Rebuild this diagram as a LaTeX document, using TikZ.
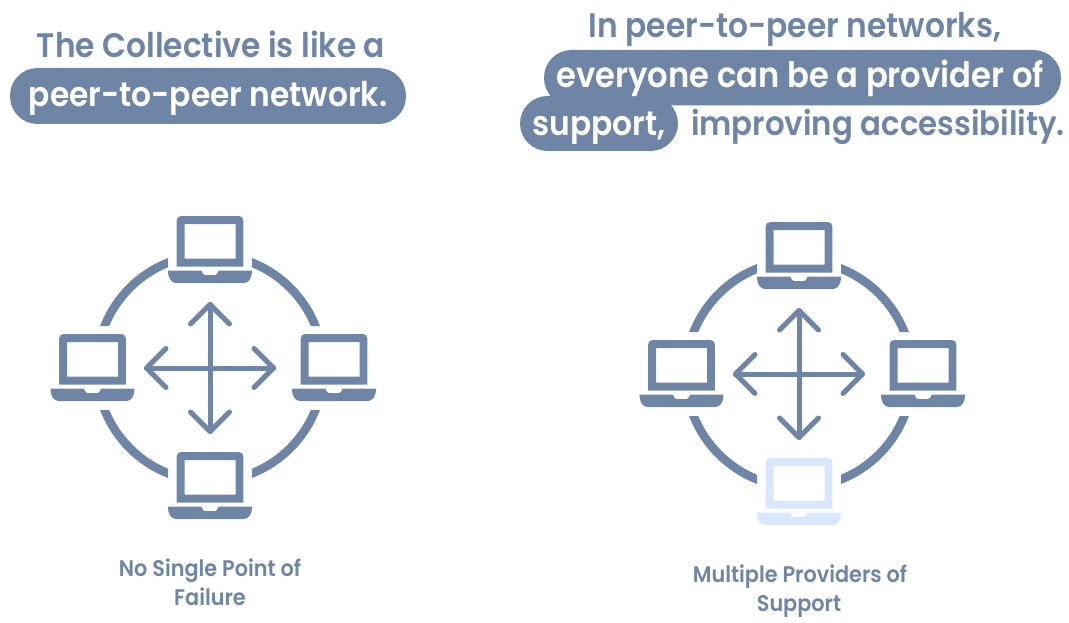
\documentclass[tikz,border=0pt]{standalone}
\usepackage{fontspec}
\setmainfont{Poppins}[UprightFont=* Medium, BoldFont=* SemiBold, FakeStretch=0.92]
\usepackage{xcolor}
\usepackage{tikz}
\definecolor{slateblue}{HTML}{6E85A6}
\definecolor{paleblue}{HTML}{D8E7FB}
\tikzset{
  headtext/.style={text=slateblue, font=\bfseries\fontsize{34}{34}\selectfont, anchor=base, inner sep=0pt},
  pilltext/.style={text=white, font=\bfseries\fontsize{34}{34}\selectfont, anchor=base, inner sep=0pt},
  capttext/.style={text=slateblue, font=\bfseries\fontsize{22.6}{22.6}\selectfont, anchor=base, inner sep=0pt},
  arrowline/.style={draw=slateblue, line width=5pt, line cap=round, line join=round}
}
\newcommand{\drawlaptop}[3]{%
  \begin{scope}[shift={(#1,#2)}]
    \fill[#3, even odd rule]
      (-33.4,50.7) [rounded corners=4.5pt] -- (-33.4,0) -- (33.4,0) [sharp corners] -- (33.4,50.7) -- cycle
      (-25.5,8) rectangle (25.5,42.7);
    \fill[#3] (-42,54.7) -- (-8.6,54.7) .. controls (-7,58.5) and (-6,59.2) .. (-4,59.2) -- (4,59.2)
      .. controls (6,59.2) and (7,58.5) .. (8.6,54.7) -- (42,54.7)
      .. controls (42,62) and (39,67) .. (34,67) -- (-34,67)
      .. controls (-39,67) and (-42,62) .. (-42,54.7) -- cycle;
  \end{scope}}
\newcommand{\drawnetwork}[1]{%
  \begin{scope}
    \clip (42,-125) rectangle (125,-42) (-125,-125) rectangle (-42,-42)
      (42,42) rectangle (125,125) (-125,42) rectangle (-42,125);
    \draw[slateblue, line width=8.6pt] (0,0) circle (113.4);
  \end{scope}
  \draw[arrowline] (-63.5,0) -- (63.5,0);
  \draw[arrowline] (0,-63.5) -- (0,63.5);
  \draw[arrowline] (-44,-19.5) -- (-63.5,0) -- (-44,19.5);
  \draw[arrowline] (44,-19.5) -- (63.5,0) -- (44,19.5);
  \draw[arrowline] (-19.5,-44) -- (0,-63.5) -- (19.5,-44);
  \draw[arrowline] (-19.5,44) -- (0,63.5) -- (19.5,44);
  \drawlaptop{0}{-152}{slateblue}
  \drawlaptop{-117.5}{-34}{slateblue}
  \drawlaptop{124}{-34}{slateblue}
  \drawlaptop{0}{84}{#1}}
\begin{document}
\begin{tikzpicture}[x=1pt, y=-1pt]
  \useasboundingbox (0,0) rectangle (1069,623);

  %--- Left heading ---
  \fill[slateblue, rounded corners=27.5pt] (10,68) rectangle (406,124);
  \node[headtext] (leadone) at (211,58) {The Collective is like a};
  \node[pilltext] (leadtwo) at (208,107) {peer-to-peer network.};

  %--- Right heading ---
  \fill[slateblue, rounded corners=27.5pt] (544,50) rectangle (1061,105.5);
  \fill[slateblue, rounded corners=27.5pt] (520,96) rectangle (678,151);
  \node[headtext] (peerone) at (795,38) {In peer-to-peer networks,};
  \node[pilltext, font=\bfseries\fontsize{35}{35}\selectfont] (peertwo) at (800,88) {everyone can be a provider of};
  \node[pilltext] (peerthree) at (599,136) {support,};
  \node[headtext, font=\bfseries\fontsize{33.5}{33.5}\selectfont] (peerfour) at (878,136) {improving accessibility.};

  %--- Left network ---
  \begin{scope}[shift={(210,368)}]
    \drawnetwork{slateblue}
  \end{scope}
  \node[capttext] (leftcapone) at (210,576) {No Single Point of};
  \node[capttext] (leftcaptwo) at (210,605) {Failure};

  %--- Right network ---
  \begin{scope}[shift={(799,374)}]
    \drawnetwork{paleblue}
  \end{scope}
  \node[capttext] (rightcapone) at (800,582) {Multiple Providers of};
  \node[capttext] (rightcaptwo) at (799,611) {Support};
\end{tikzpicture}
\end{document}
